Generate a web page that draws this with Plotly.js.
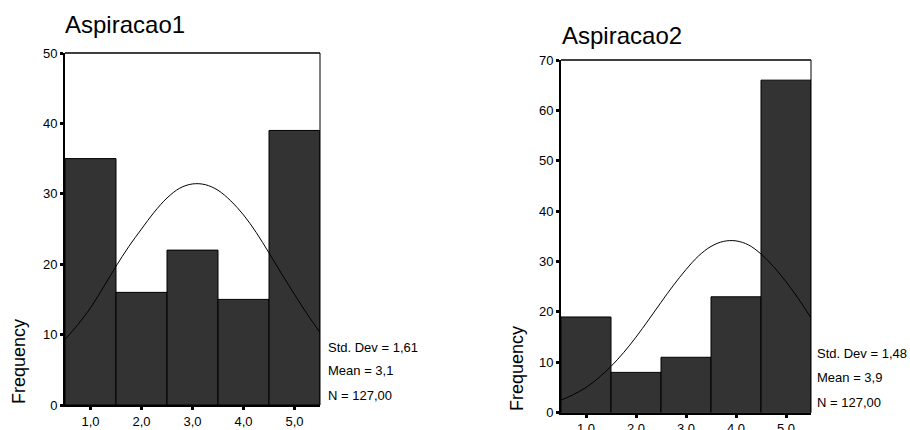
<!DOCTYPE html>
<html>
<head>
<meta charset="utf-8">
<script src="https://cdn.plot.ly/plotly-3.0.1.min.js"></script>
<style>html,body{margin:0;padding:0;background:#fff}#chart{width:910px;height:430px}</style>
</head>
<body>
<div id="chart"></div>
<script>
// Data
const categories = [1, 2, 3, 4, 5];
const tickLabels = ["1,0", "2,0", "3,0", "4,0", "5,0"];
const freq1 = [35, 16, 22, 15, 39];
const freq2 = [19, 8, 11, 23, 66];
const curveX = [0.5, 0.75, 1.0, 1.25, 1.5, 1.75, 2.0, 2.25, 2.5, 2.75, 3.0, 3.25, 3.5, 3.75, 4.0, 4.25, 4.5, 4.75, 5.0, 5.25, 5.5];
const curve1 = [9.3, 11.4, 13.8, 16.7, 19.7, 22.5, 25.0, 27.4, 29.4, 30.8, 31.4, 31.3, 30.5, 29.0, 27.0, 24.5, 21.6, 18.6, 15.7, 12.9, 10.3];
const curve2 = [2.5, 3.6, 5.0, 6.9, 9.2, 11.9, 15.0, 18.4, 21.9, 25.3, 28.4, 31.1, 33.0, 34.0, 34.1, 33.3, 31.5, 29.0, 26.0, 22.6, 18.8];
const titles = ["Aspiracao1", "Aspiracao2"];
const stats1 = ["Std. Dev = 1,61", "Mean = 3,1", "N = 127,00"];
const stats2 = ["Std. Dev = 1,48", "Mean = 3,9", "N = 127,00"];
const yMax = [50, 70];

const FONT = "Liberation Sans, Arial, Helvetica, sans-serif";
const W = 910, H = 430;
const px = v => v / W;
const py = v => (H - v) / H;

const barStyle = {color: "#333333", line: {color: "#000000", width: 1}};
const traces = [
  {type: "bar", x: categories, y: freq1, width: 1, marker: barStyle, xaxis: "x", yaxis: "y", hoverinfo: "x+y"},
  {type: "scatter", mode: "lines", x: curveX, y: curve1, line: {color: "#000", width: 1, shape: "spline"}, xaxis: "x", yaxis: "y"},
  {type: "bar", x: categories, y: freq2, width: 1, marker: barStyle, xaxis: "x2", yaxis: "y2", hoverinfo: "x+y"},
  {type: "scatter", mode: "lines", x: curveX, y: curve2, line: {color: "#000", width: 1, shape: "spline"}, xaxis: "x2", yaxis: "y2"}
];

function xAxis(domain, anchor) {
  return {
    domain: domain, anchor: anchor, range: [0.5, 5.5],
    tickmode: "array", tickvals: categories, ticktext: tickLabels,
    ticks: "outside", ticklen: 3, tickwidth: 3, tickcolor: "#000",
    showline: true, linecolor: "#000", linewidth: 2,
    showgrid: false, zeroline: false, fixedrange: true,
    tickfont: {family: FONT, size: 13, color: "#000"}
  };
}
function yAxis(domain, anchor, max) {
  return {
    domain: domain, anchor: anchor, range: [0, max], dtick: 10, tick0: 0,
    ticks: "outside", ticklen: 3, tickwidth: 3, tickcolor: "#000",
    showline: true, linecolor: "#000", linewidth: 2,
    showgrid: false, zeroline: false, fixedrange: true,
    tickfont: {family: FONT, size: 13, color: "#000"}
  };
}

const annotations = [];
function addText(text, x, y, size, opts) {
  annotations.push(Object.assign({
    text: text, xref: "paper", yref: "paper", x: px(x), y: py(y),
    xanchor: "left", yanchor: "middle", showarrow: false,
    font: {family: FONT, size: size, color: "#000"}
  }, opts || {}));
}
addText(titles[0], 63, 24, 24);
addText(titles[1], 560, 35, 24);
addText("Frequency", 19, 362, 18, {xanchor: "center", textangle: -90});
addText("Frequency", 517, 369, 18, {xanchor: "center", textangle: -90});
[347, 370, 395].forEach((yy, i) => addText(stats1[i], 326, yy, 13));
[353, 377, 402].forEach((yy, i) => addText(stats2[i], 815, yy, 13));

const border = (xr, yr) => [
  {type: "line", xref: xr + " domain", yref: yr + " domain", x0: 0, x1: 1, y0: 1, y1: 1, line: {color: "#000", width: 1.5}},
  {type: "line", xref: xr + " domain", yref: yr + " domain", x0: 1, x1: 1, y0: 0, y1: 1, line: {color: "#000", width: 1}}
];

const layout = {
  width: W, height: H,
  margin: {l: 0, r: 0, t: 0, b: 0},
  paper_bgcolor: "#fff", plot_bgcolor: "#fff",
  showlegend: false, bargap: 0,
  font: {family: FONT, color: "#000"},
  xaxis: xAxis([px(65), px(320)], "y"),
  yaxis: yAxis([py(405), py(53)], "x", yMax[0]),
  xaxis2: xAxis([px(561), px(811)], "y2"),
  yaxis2: yAxis([py(412.7), py(60)], "x2", yMax[1]),
  annotations: annotations,
  shapes: border("x", "y").concat(border("x2", "y2"))
};

Plotly.newPlot("chart", traces, layout, {displayModeBar: false, staticPlot: true});
</script>
</body>
</html>
